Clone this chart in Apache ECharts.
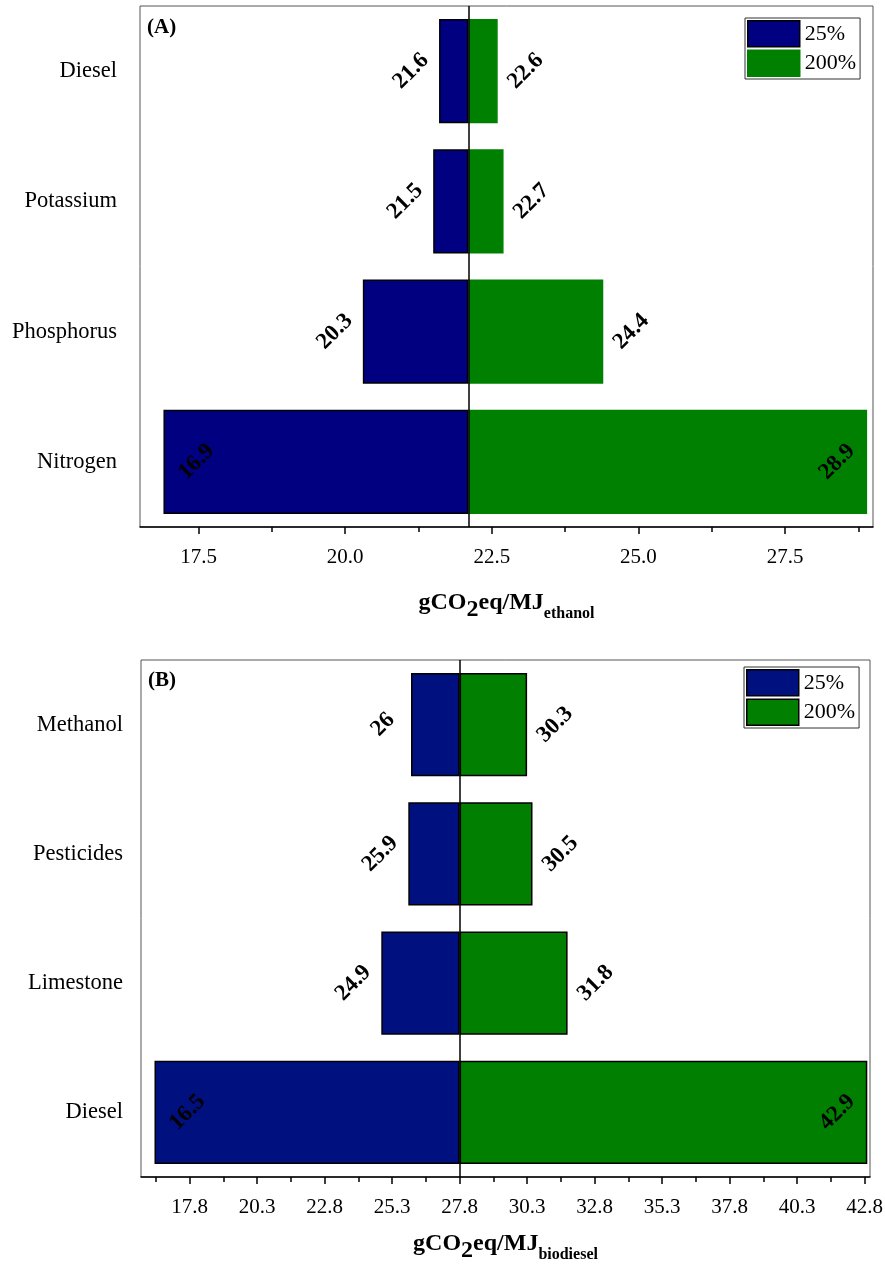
<!DOCTYPE html>
<html><head><meta charset="utf-8">
<script src="https://cdn.jsdelivr.net/npm/echarts@6/dist/echarts.min.js"></script>
<style>html,body{margin:0;padding:0;background:#fff}#c{width:885px;height:1265px}</style>
</head><body><div id="c"></div>
<script>
// ---- Data ----
const categoriesA = ['Diesel', 'Potassium', 'Phosphorus', 'Nitrogen'];
const lowA = [21.6, 21.5, 20.3, 16.9];
const highA = [22.6, 22.7, 24.4, 28.9];
const baseA = 22.1;
const majorTicksA = [17.5, 20.0, 22.5, 25.0, 27.5];
const minorTicksA = [18.75, 21.25, 23.75, 26.25, 28.75];

const categoriesB = ['Methanol', 'Pesticides', 'Limestone', 'Diesel'];
const lowB = [26, 25.9, 24.9, 16.5];
const highB = [30.3, 30.5, 31.8, 42.9];
const baseB = 27.8;
const majorTicksB = [17.8, 20.3, 22.8, 25.3, 27.8, 30.3, 32.8, 35.3, 37.8, 40.3, 42.8];
const minorTicksB = [16.55, 19.05, 21.55, 24.05, 26.55, 29.05, 31.55, 34.05, 36.55, 39.05, 41.55];

const seriesNames = ['25%', '200%'];

// ---- Styling / layout ----
const FONT = '"Liberation Serif", "Times New Roman", serif';
const panels = [
  { tag: '(A)', cats: categoriesA, low: lowA, high: highA, base: baseA, major: majorTicksA, minor: minorTicksA,
    min: 16.5, max: 29.0, grid: { left: 140, right: 12, top: 6, bottom: 738 }, sub: 'ethanol', nameGap: 64,
    blue: '#000080', green: '#008000', greenBorder: '#008000', legend: { left: 745, top: 18 }, tagPos: { left: 147, top: 17 }, yMargin: 23 },
  { tag: '(B)', cats: categoriesB, low: lowB, high: highB, base: baseB, major: majorTicksB, minor: minorTicksB,
    min: 16.0, max: 43.0, grid: { left: 141, right: 15, top: 660, bottom: 88 }, sub: 'biodiesel', nameGap: 55,
    blue: '#00107f', green: '#007f00', greenBorder: '#000', legend: { left: 744, top: 667 }, tagPos: { left: 148, top: 670 }, yMargin: 18 }
];

const option = { animation: false, backgroundColor: '#fff', grid: [], xAxis: [], yAxis: [], series: [], legend: [], graphic: [] };
const labelBase = { show: true, rotate: 45, align: 'center', verticalAlign: 'middle', fontFamily: FONT, fontWeight: 'bold', fontSize: 23, color: '#000' };
const D = Math.SQRT1_2; // converts a horizontal screen offset into the 45°-rotated label frame

panels.forEach((p, gi) => {
  const gMain = 2 * gi, gMinor = 2 * gi + 1;
  option.grid.push(Object.assign({ show: true, borderColor: '#555', borderWidth: 1, backgroundColor: 'transparent', outerBoundsMode: 'none', containLabel: false }, p.grid));
  option.grid.push(Object.assign({ show: false, outerBoundsMode: 'none', containLabel: false }, p.grid));
  option.xAxis.push({
    gridIndex: gMain, type: 'value', min: p.min, max: p.max,
    axisLine: { show: true, onZero: false, lineStyle: { color: '#000', width: 1.5 } },
    axisTick: { show: true, customValues: p.major, length: 7, lineStyle: { color: '#000', width: 1.5 } },
    axisLabel: { customValues: p.major, formatter: v => Number(v).toFixed(1), fontFamily: FONT, fontSize: 21, color: '#000', margin: 20 },
    splitLine: { show: false },
    name: '{m|gCO}{s|2}{m|eq/MJ}{t|' + p.sub + '}', nameLocation: 'middle', nameGap: p.nameGap,
    nameTextStyle: {
      fontFamily: FONT, fontWeight: 'bold', fontSize: 24, color: '#000',
      rich: {
        m: { fontFamily: FONT, fontWeight: 'bold', fontSize: 24, color: '#000', verticalAlign: 'top', padding: [0, 0, 7, 0] },
        s: { fontFamily: FONT, fontWeight: 'bold', fontSize: 24, color: '#000', verticalAlign: 'bottom' },
        t: { fontFamily: FONT, fontWeight: 'bold', fontSize: 16, color: '#000', verticalAlign: 'bottom' }
      }
    }
  });
  option.xAxis.push({
    gridIndex: gMinor, type: 'value', min: p.min, max: p.max,
    axisLine: { show: false }, axisLabel: { show: false }, splitLine: { show: false },
    axisTick: { show: true, customValues: p.minor, length: 5, lineStyle: { color: '#000', width: 1.5 } }
  });
  option.yAxis.push({
    gridIndex: gMain, type: 'category', data: p.cats, inverse: true,
    axisLine: { show: false }, axisTick: { show: false }, splitLine: { show: false },
    axisLabel: { fontFamily: FONT, fontSize: 22.5, color: '#000', margin: p.yMargin }
  });
  option.yAxis.push({ gridIndex: gMinor, type: 'category', data: p.cats, inverse: true, show: false });

  const lowMin = Math.min(...p.low), highMax = Math.max(...p.high);
  const common = { type: 'bar', xAxisIndex: gMain, yAxisIndex: gMain, barWidth: '80%' };
  // invisible base for the low (25%) bars
  option.series.push(Object.assign({}, common, {
    name: 'baseLow' + gi, stack: 'L' + gi, silent: true, itemStyle: { color: 'transparent' }, data: p.low.slice()
  }));
  option.series.push(Object.assign({}, common, {
    name: seriesNames[0], stack: 'L' + gi,
    itemStyle: { color: p.blue, borderColor: '#000', borderWidth: 1.5 },
    data: p.low.map((v, i) => ({
      value: +(p.base - v).toFixed(4),
      label: Object.assign({}, labelBase, {
        position: v === lowMin ? [33, '50%'] : [-28, '50%'],
        formatter: () => String(p.low[i])
      })
    }))
  }));
  // invisible base for the high (200%) bars
  option.series.push(Object.assign({}, common, {
    name: 'baseHigh' + gi, stack: 'H' + gi, silent: true, itemStyle: { color: 'transparent' }, data: p.high.map(() => p.base)
  }));
  option.series.push(Object.assign({}, common, {
    name: seriesNames[1], stack: 'H' + gi, barGap: '-100%',
    itemStyle: { color: p.green, borderColor: p.greenBorder, borderWidth: 1.5 },
    data: p.high.map((v, i) => {
      const dx = v === highMax ? -30 : 28;
      return {
        value: +(v - p.base).toFixed(4),
        label: Object.assign({}, labelBase, {
          position: ['100%', '50%'],
          offset: [dx * D, dx * D],
          formatter: () => String(p.high[i])
        })
      };
    }),
    markLine: {
      silent: true, symbol: 'none', label: { show: false }, z: 10,
      lineStyle: { color: '#000', width: 1.5, type: 'solid' },
      data: [{ xAxis: p.base }]
    }
  }));

  option.legend.push({
    left: p.legend.left, top: p.legend.top, orient: 'vertical', selectedMode: false,
    itemWidth: 52, itemHeight: 26, itemGap: 2, padding: [2, 4, 2, 2],
    borderColor: '#333', borderWidth: 1, backgroundColor: '#fff', borderRadius: 0,
    textStyle: { fontFamily: FONT, fontSize: 22, color: '#000' },
    data: [
      { name: seriesNames[0], icon: 'rect', itemStyle: { color: p.blue, borderColor: '#000', borderWidth: 1.5 } },
      { name: seriesNames[1], icon: 'rect', itemStyle: { color: p.green, borderColor: p.greenBorder, borderWidth: 1.5 } }
    ]
  });
  option.graphic.push({
    type: 'text', left: p.tagPos.left, top: p.tagPos.top,
    style: { text: p.tag, font: 'bold 21px ' + FONT, fill: '#000' }
  });
});

const chart = echarts.init(document.getElementById('c'), null, { renderer: 'canvas' });
chart.setOption(option);
</script>
</body></html>
